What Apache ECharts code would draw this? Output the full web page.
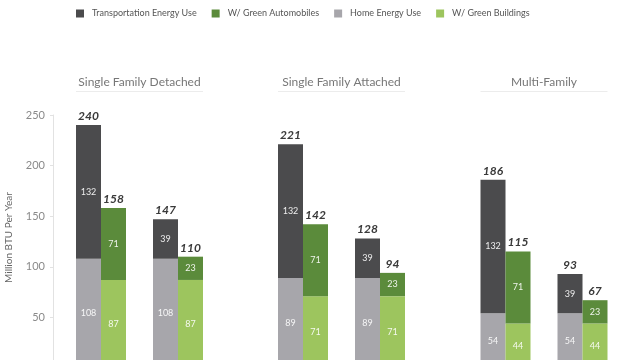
<!DOCTYPE html>
<html>
<head>
<meta charset="utf-8">
<script src="https://cdn.jsdelivr.net/npm/echarts@6/dist/echarts.min.js"></script>
<style>html,body{margin:0;padding:0;background:#fff;}#c{width:640px;height:360px;}</style>
</head>
<body>
<div id="c"></div>
<script>
// ---- data ----
const groups = ['Single Family Detached', 'Single Family Attached', 'Multi-Family'];
const scenarios = ['Typical', 'Efficient'];
const homeEnergy = [[108, 108], [89, 89], [54, 54]];
const transportEnergy = [[132, 39], [132, 39], [132, 39]];
const greenBuildings = [[87, 87], [71, 71], [44, 44]];
const greenAutos = [[71, 23], [71, 23], [71, 23]];
const yTicks = [0, 50, 100, 150, 200, 250];

// ---- layout / style ----
const FONT = 'Lato';
const C_DARK = '#4b4b4d', C_GREEN = '#5b8b3b', C_GREY = '#a7a6ab', C_LGREEN = '#9dc55e';
const gridLefts = [62.5, 264.5, 467];
const gridW = 154, gridTop = 115, gridH = 253;
const barW = 25;

const chart = echarts.init(document.getElementById('c'));
const grids = [], xAxes = [], yAxes = [], series = [], titles = [], graphics = [];

const innerLabel = {show: true, position: 'inside', color: 'rgba(255,255,255,0.9)', fontSize: 9, fontFamily: FONT};

groups.forEach((g, gi) => {
  grids.push({left: gridLefts[gi], top: gridTop, width: gridW, height: gridH, outerBoundsMode: 'none'});
  xAxes.push({type: 'category', gridIndex: gi, data: scenarios, show: false});
  yAxes.push({
    type: 'value', gridIndex: gi, min: yTicks[0], max: yTicks[yTicks.length - 1], interval: yTicks[1] - yTicks[0], show: gi === 0,
    offset: gi === 0 ? 9.5 : 0,
    name: gi === 0 ? 'Million BTU Per Year' : '', nameLocation: 'middle', nameGap: 39,
    nameTextStyle: {color: '#666', fontSize: 10, fontFamily: FONT, padding: [0, 0, 0, 8]},
    axisLine: {show: true, lineStyle: {color: '#e2e2e2'}},
    axisTick: {show: true, length: 3, lineStyle: {color: '#e2e2e2'}},
    axisLabel: {color: '#8a8a8a', fontSize: 11, fontFamily: FONT, margin: 8},
    splitLine: {show: false}
  });
  const common = {type: 'bar', xAxisIndex: gi, yAxisIndex: gi, barWidth: barW, barGap: '0%', barCategoryGap: '0%'};
  const totalLabel = {show: true, position: 'top', distance: 3, fontSize: 12, fontWeight: 'bold', fontStyle: 'italic', color: '#3a3a3a', fontFamily: FONT};
  series.push(Object.assign({}, common, {name: 'Home Energy Use', stack: 'a' + gi, data: homeEnergy[gi], itemStyle: {color: C_GREY}, label: innerLabel}));
  series.push(Object.assign({}, common, {name: 'Transportation Energy Use', stack: 'a' + gi, data: transportEnergy[gi], itemStyle: {color: C_DARK}, label: innerLabel}));
  series.push(Object.assign({}, common, {name: 'TotalA' + gi, stack: 'a' + gi, data: scenarios.map(() => 0), itemStyle: {color: 'transparent'},
    label: Object.assign({}, totalLabel, {formatter: p => homeEnergy[gi][p.dataIndex] + transportEnergy[gi][p.dataIndex]})}));
  series.push(Object.assign({}, common, {name: 'W/ Green Buildings', stack: 'b' + gi, data: greenBuildings[gi], itemStyle: {color: C_LGREEN}, label: innerLabel}));
  series.push(Object.assign({}, common, {name: 'W/ Green Automobiles', stack: 'b' + gi, data: greenAutos[gi], itemStyle: {color: C_GREEN}, label: innerLabel}));
  series.push(Object.assign({}, common, {name: 'TotalB' + gi, stack: 'b' + gi, data: scenarios.map(() => 0), itemStyle: {color: 'transparent'},
    label: Object.assign({}, totalLabel, {formatter: p => greenBuildings[gi][p.dataIndex] + greenAutos[gi][p.dataIndex]})}));

  // panel title centered over the bar group with a faint underline
  const band = gridW / scenarios.length;
  const x0 = gridLefts[gi] + band / 2 - barW;
  const x1 = gridLefts[gi] + gridW - band / 2 + barW;
  titles.push({text: g, left: (x0 + x1) / 2, top: 76, padding: 0, textAlign: 'center',
    textStyle: {fontSize: 12, fontWeight: 'normal', color: '#777', fontFamily: FONT}});
  graphics.push({type: 'line', shape: {x1: x0, y1: 91.5, x2: x1, y2: 91.5}, style: {stroke: '#ececec', lineWidth: 1}, silent: true});
});

chart.setOption({
  backgroundColor: '#fff',
  animation: false,
  title: titles,
  legend: {
    data: ['Transportation Energy Use', 'W/ Green Automobiles', 'Home Energy Use', 'W/ Green Buildings'],
    left: 76, top: 9, padding: 0, icon: 'rect', itemWidth: 8, itemHeight: 8, itemGap: 15,
    textStyle: {fontSize: 9, color: '#555', fontFamily: FONT, padding: [0, 0, 0, 3]}
  },
  grid: grids, xAxis: xAxes, yAxis: yAxes, series: series, graphic: graphics
});
</script>
</body>
</html>
